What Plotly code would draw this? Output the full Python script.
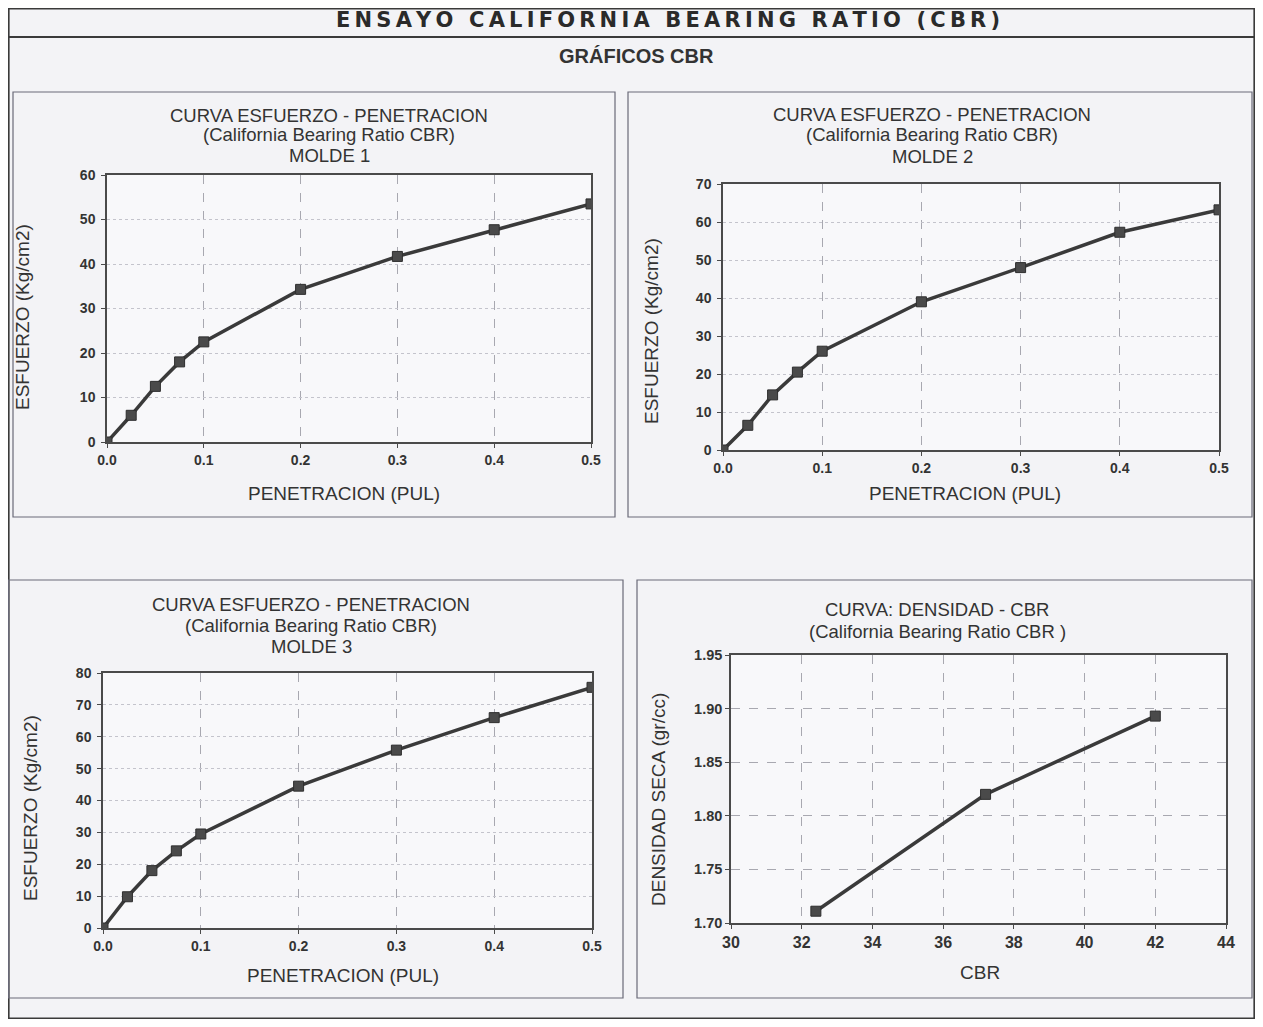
import plotly.graph_objects as go

# browser body margin is 8px, so the figure is drawn 8px in from the page corner
OFF = 8
W, H = 1263 - 2 * OFF, 1027 - 2 * OFF

PENETRACION = [0.0, 0.025, 0.05, 0.075, 0.1, 0.2, 0.3, 0.4, 0.5]
ESFUERZO_M1 = [0.0, 6.0, 12.5, 18.0, 22.5, 34.3, 41.7, 47.7, 53.5]
ESFUERZO_M2 = [0.0, 6.5, 14.5, 20.5, 26.0, 39.0, 48.0, 57.3, 63.2]
ESFUERZO_M3 = [0.0, 9.8, 18.0, 24.2, 29.5, 44.5, 55.8, 66.0, 75.5]
CBR = [32.4, 37.2, 42.0]
DENSIDAD_SECA = [1.711, 1.820, 1.893]

PEN_TICKS = [0.0, 0.1, 0.2, 0.3, 0.4, 0.5]
PEN_TICK_TEXT = ["0.0", "0.1", "0.2", "0.3", "0.4", "0.5"]

BG = "#f3f3f6"
INK = "#3a3a3a"
TEXT = "#333333"
FONT = "Liberation Sans, Arial, sans-serif"


def px_x(x):
    return min(max((x - OFF) / W, 0.0005), 0.9995)


def px_y(y):
    return min(max(1 - (y - OFF) / H, 0.0005), 0.9995)


def curve(x, y, xa, ya):
    return go.Scatter(
        x=x, y=y, xaxis=xa, yaxis=ya, mode="lines+markers",
        line=dict(color=INK, width=3.5),
        marker=dict(symbol="square", size=10, color="#4a4a4a",
                    line=dict(color="#2e2e2e", width=1)),
        showlegend=False, hoverinfo="x+y",
    )


def axis(dom, rng, size=14, **kw):
    d = dict(
        domain=dom, range=rng, showline=True, mirror=True, automargin=False,
        linecolor="#4a4a4a", linewidth=1.5, ticks="outside", ticklen=4,
        tickcolor="#4a4a4a", zeroline=False, showgrid=True,
        tickfont=dict(family=FONT, size=size, color=TEXT, weight="bold"),
    )
    d.update(kw)
    return d


def text(x, y, t, size=19, angle=0, **kw):
    fig.add_annotation(x=px_x(x), y=px_y(y), xref="paper", yref="paper",
                       text=t, showarrow=False, textangle=angle,
                       xanchor="center", yanchor="middle",
                       font=dict(family=FONT, size=size, color=TEXT), **kw)


fig = go.Figure()
fig.add_trace(curve(PENETRACION, ESFUERZO_M1, "x", "y"))
fig.add_trace(curve(PENETRACION, ESFUERZO_M2, "x2", "y2"))
fig.add_trace(curve(PENETRACION, ESFUERZO_M3, "x3", "y3"))
fig.add_trace(curve(CBR, DENSIDAD_SECA, "x4", "y4"))

xgrid = dict(gridcolor="#a8a8b0", griddash="dash", gridwidth=1)
ygrid = dict(gridcolor="#c4c4cc", griddash="dot", gridwidth=1)

fig.update_layout(
    xaxis=axis([px_x(107), px_x(591)], [0, 0.5], anchor="y",
               tickvals=PEN_TICKS, ticktext=PEN_TICK_TEXT, **xgrid),
    yaxis=axis([px_y(442), px_y(175)], [0, 60], anchor="x", dtick=10,
               ticklabelstandoff=3, **ygrid),
    xaxis2=axis([px_x(723), px_x(1219)], [0, 0.5], anchor="y2",
                tickvals=PEN_TICKS, ticktext=PEN_TICK_TEXT, **xgrid),
    yaxis2=axis([px_y(450), px_y(184)], [0, 70], anchor="x2", dtick=10,
                ticklabelstandoff=3, **ygrid),
    xaxis3=axis([px_x(103), px_x(592)], [0, 0.5], anchor="y3",
                tickvals=PEN_TICKS, ticktext=PEN_TICK_TEXT, **xgrid),
    yaxis3=axis([px_y(928), px_y(673)], [0, 80], anchor="x3", dtick=10,
                ticklabelstandoff=3, **ygrid),
    xaxis4=axis([px_x(731), px_x(1226)], [30, 44], size=16, anchor="y4",
                dtick=2, **xgrid),
    yaxis4=axis([px_y(923), px_y(655)], [1.70, 1.95], size=14.5, anchor="x4",
                dtick=0.05, tickformat=".2f", gridcolor="#a8a8b0",
                griddash="dash"),
)

# chart titles, one line each
SUB = "(California Bearing Ratio CBR)"
for x, ys, lines in [
    (329, (115, 135, 155), ["CURVA ESFUERZO - PENETRACION", SUB, "MOLDE 1"]),
    (932, (114, 135, 156), ["CURVA ESFUERZO - PENETRACION", SUB, "MOLDE 2"]),
    (311, (604, 625, 646), ["CURVA ESFUERZO - PENETRACION", SUB, "MOLDE 3"]),
    (937, (609, 631), ["CURVA: DENSIDAD - CBR", "(California Bearing Ratio CBR )"]),
]:
    for y, t in zip(ys, lines):
        text(x, y, t, size=18.5)

# axis titles
text(344, 494, "PENETRACION (PUL)")
text(965, 494, "PENETRACION (PUL)")
text(343, 975, "PENETRACION (PUL)")
text(980, 972, "CBR")
text(22, 317, "ESFUERZO (Kg/cm2)", angle=-90)
text(652, 331, "ESFUERZO (Kg/cm2)", angle=-90)
text(30, 808, "ESFUERZO (Kg/cm2)", angle=-90)
text(658, 800, "DENSIDAD SECA (gr/cc)", angle=-90)

# headers
words = ["ENSAYO", "CALIFORNIA", "BEARING", "RATIO", "(CBR)"]
hdr = "\u2009 \u2009".join("\u2009".join(w) for w in words)
text(668, 20, hdr, size=21)
fig.layout.annotations[-1].font.update(family="DejaVu Sans, sans-serif",
                                       weight="bold", color="#2a2a2a")
text(636, 56, "<b>GRÁFICOS CBR</b>", size=20)

# page frame and panel boxes
frame = dict(color="#3a3a3a", width=2)
box = dict(color="#6a6a78", width=1.2)
shapes = [
    ("rect", 5, 4, 1258, 1024, frame),
    ("line", 5, 37, 1258, 37, frame),
    ("rect", 13, 92, 615, 517, box),
    ("rect", 628, 92, 1252, 517, box),
    ("rect", 8, 580, 623, 998, box),
    ("rect", 637, 580, 1252, 998, box),
]
for kind, x0, y0, x1, y1, ln in shapes:
    fig.add_shape(type=kind, xref="paper", yref="paper",
                  x0=px_x(x0), x1=px_x(x1), y0=px_y(y0), y1=px_y(y1),
                  line=ln, layer="below")

fig.update_layout(
    width=W, height=H, margin=dict(l=0, r=0, t=0, b=0),
    paper_bgcolor=BG, plot_bgcolor="#f8f8fa",
    font=dict(family=FONT, color=TEXT),
)

fig.write_html("out.html")
